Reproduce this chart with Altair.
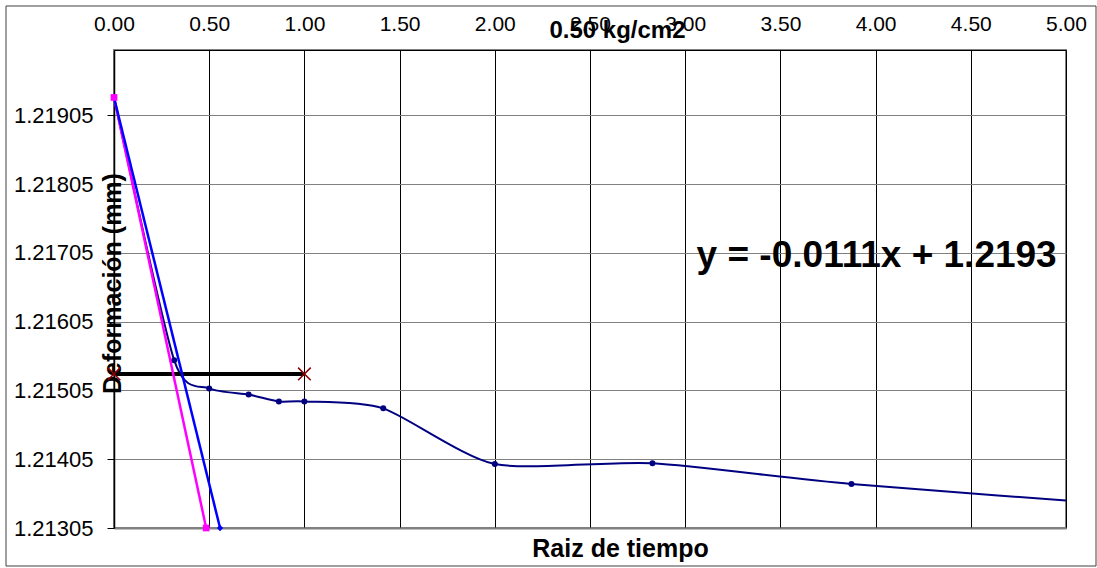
import altair as alt
import pandas as pd

FONT = "Liberation Sans"

# Square root of time vs deformation readings
raiz_t = [0.0, 0.316, 0.5, 0.707, 0.866, 1.0, 1.414, 2.0, 2.828, 3.873, 5.477]
deform = [1.21931, 1.21549, 1.21508, 1.21499, 1.21489, 1.21489, 1.21479,
          1.21398, 1.21399, 1.21369, 1.21335]

# Tangent line (blue) and corrected line (magenta)
tang_x = [0.0, 0.557]
tang_y = [1.21931, 1.21305]
corr_x = [0.0, 0.484]
corr_y = [1.21931, 1.21305]

# Horizontal reference (black)
horiz_x = [0.0, 1.0]
horiz_y = [1.21529, 1.21529]

x_ticks = [0.0, 0.5, 1.0, 1.5, 2.0, 2.5, 3.0, 3.5, 4.0, 4.5, 5.0]
y_ticks = [1.21305, 1.21405, 1.21505, 1.21605, 1.21705, 1.21805, 1.21905]

equation = "y = -0.0111x + 1.2193"

curve = pd.DataFrame({"x": raiz_t, "y": deform})
tang = pd.DataFrame({"x": tang_x, "y": tang_y})
corr = pd.DataFrame({"x": corr_x, "y": corr_y})
horiz = pd.DataFrame({"x": horiz_x, "y": horiz_y})

xs = alt.Scale(domain=[0, 5], nice=False, zero=False)
ys = alt.Scale(domain=[1.21305, 1.22], nice=False, zero=False)

top_axis = alt.Axis(
    orient="top", values=x_ticks, format=".2f",
    labelFont=FONT, labelFontSize=21, labelColor="black",
    labelPadding=20, labelBaseline="alphabetic", labelFlush=False, ticks=False,
    grid=True, gridColor="black", gridWidth=1, gridOpacity=1,
    domainColor="black", domainWidth=1,
    title="0.50 kg/cm2", titleFont=FONT, titleFontSize=24,
    titleFontWeight="bold", titleColor="black",
    titleX=503, titleY=-20, titleAlign="center", titleBaseline="middle",
)
bottom_axis = alt.Axis(
    orient="bottom", labels=False, ticks=False, grid=False,
    domainColor="#808080", domainWidth=2,
    title="Raiz de tiempo", titleFont=FONT, titleFontSize=25,
    titleFontWeight="bold", titleColor="black",
    titleX=506, titleY=20, titleAlign="center", titleBaseline="middle",
)
y_axis = alt.Axis(
    values=y_ticks, format=".5f",
    labelFont=FONT, labelFontSize=22, labelColor="black",
    labelPadding=14, labelBaseline="middle", labelFlush=False,
    tickSize=7, tickColor="black", tickWidth=1,
    grid=True, gridColor="#808080", gridWidth=1, gridOpacity=1,
    domainColor="black", domainWidth=1.5,
    title="Deformación (mm)", titleFont=FONT, titleFontSize=25,
    titleFontWeight="bold", titleColor="black",
    titleAngle=270, titleX=-2, titleY=233,
    titleAlign="center", titleBaseline="middle",
)

X = lambda ax=None: alt.X("x:Q", scale=xs, axis=ax)
Y = lambda: alt.Y("y:Q", scale=ys, axis=y_axis)

curve_line = alt.Chart(curve).mark_line(
    color="#000080", strokeWidth=2, interpolate="cardinal", tension=0.3, clip=True
).encode(x=X(top_axis), y=Y())

curve_pts = alt.Chart(curve).mark_point(
    filled=True, color="#000080", size=36, opacity=1, clip=True
).encode(x=X(), y=Y())

horiz_line = alt.Chart(horiz).mark_line(color="black", strokeWidth=4).encode(x=X(), y=Y())

horiz_pts = alt.Chart(horiz).mark_point(
    shape="M-1,-1L1,1M-1,1L1,-1", filled=False, stroke="#8B0000",
    strokeWidth=1.5, size=160, opacity=1
).encode(x=X(), y=Y())

corr_line = alt.Chart(corr).mark_line(color="#FF00FF", strokeWidth=2.5).encode(x=X(), y=Y())
corr_pts = alt.Chart(corr).mark_point(
    shape="square", filled=True, color="#FF00FF", size=45, opacity=1
).encode(x=X(), y=Y())

tang_line = alt.Chart(tang).mark_line(color="#0000FF", strokeWidth=2.5).encode(x=X(), y=Y())
tang_pts = alt.Chart(tang).mark_point(
    shape="diamond", filled=True, color="#0000FF", size=40, opacity=1
).encode(x=X(), y=Y())

eq_text = alt.Chart(pd.DataFrame({"t": [equation]})).mark_text(
    align="left", baseline="middle", font=FONT, fontSize=37,
    fontWeight="bold", color="black"
).encode(x=alt.X(datum=3.06, scale=xs, axis=bottom_axis, type="quantitative"),
         y=alt.Y(datum=1.21701, scale=ys, axis=y_axis, type="quantitative"),
         text="t:N")

border = alt.Chart(pd.DataFrame({"a": [0]})).mark_rect(
    fillOpacity=0, stroke="#404040", strokeWidth=1, clip=False
).encode(x=alt.value(-108), x2=alt.value(982), y=alt.value(-44), y2=alt.value(516))

chart = alt.layer(
    curve_line, curve_pts, horiz_line, horiz_pts,
    corr_line, tang_line, tang_pts, corr_pts, eq_text, border
).resolve_axis(x="independent").properties(
    width=952, height=478,
    autosize=alt.AutoSizeParams(type="none"),
    padding={"left": 114, "top": 50, "right": 31, "bottom": 40},
    background="white",
).configure_view(stroke="#808080", strokeWidth=2)

chart.save("out.html", embed_options={"renderer": "svg", "actions": False})
